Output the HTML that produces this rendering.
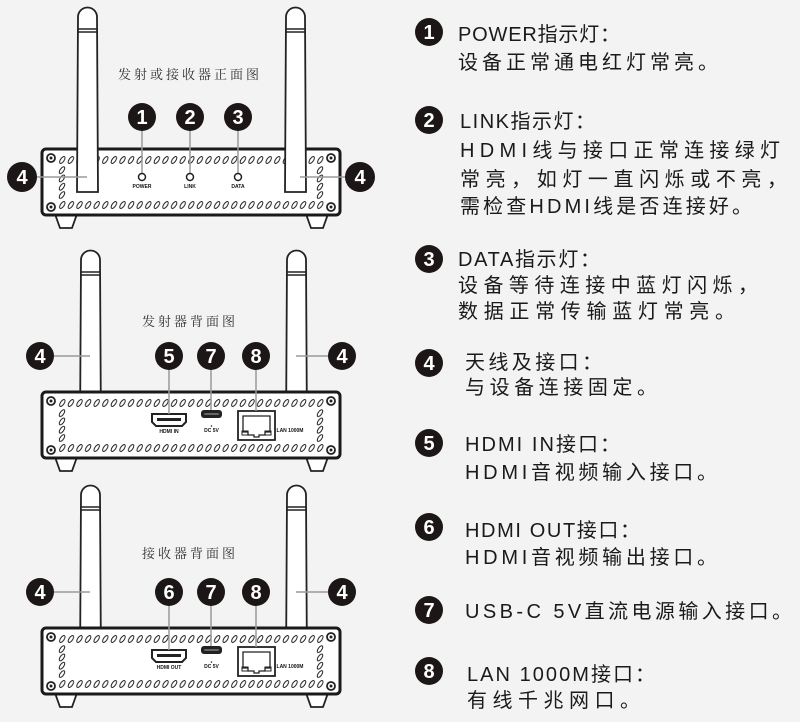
<!DOCTYPE html>
<html><head><meta charset="utf-8"><style>
html,body{margin:0;padding:0;background:#f3f3f3;}
svg{display:block;}
.cj{font-family:"Liberation Sans","Noto Sans CJK SC",sans-serif;font-size:20px;fill:#1a1a1a;}
.ttl{font-family:"Liberation Serif","Noto Serif CJK SC",serif;font-size:13px;fill:#333;}
.num{font-family:"Liberation Sans",sans-serif;font-weight:bold;font-size:20px;fill:#fff;text-anchor:middle;}
.tiny{font-family:"Liberation Sans",sans-serif;font-weight:bold;font-size:5px;fill:#111;text-anchor:middle;}
.ld{stroke:#9a9a9a;stroke-width:1.5;fill:none;}
</style></head><body>
<svg width="800" height="722" viewBox="0 0 800 722" xmlns="http://www.w3.org/2000/svg">
<defs>
<pattern id="vh1" x="58" y="6" width="8.6" height="10" patternUnits="userSpaceOnUse">
  <ellipse cx="4.3" cy="5" rx="4" ry="1.8" transform="rotate(-55 4.3 5)" fill="none" stroke="#222" stroke-width="1"/>
</pattern>
<pattern id="vh2" x="58" y="51" width="8.6" height="10" patternUnits="userSpaceOnUse">
  <ellipse cx="4.3" cy="5" rx="4" ry="1.8" transform="rotate(-55 4.3 5)" fill="none" stroke="#222" stroke-width="1"/>
</pattern>
<pattern id="vv1" x="57" y="17" width="10" height="8.3" patternUnits="userSpaceOnUse">
  <ellipse cx="5" cy="4.15" rx="4" ry="1.8" transform="rotate(-55 5 4.15)" fill="none" stroke="#222" stroke-width="1"/>
</pattern>
<pattern id="vv2" x="315" y="17" width="10" height="8.3" patternUnits="userSpaceOnUse">
  <ellipse cx="5" cy="4.15" rx="4" ry="1.8" transform="rotate(-55 5 4.15)" fill="none" stroke="#222" stroke-width="1"/>
</pattern>
<g id="ant">
  <path d="M0 185 L1 10 A9.5 9.5 0 0 1 20 10 L21 185 Z" fill="#fff" stroke="#222" stroke-width="1.8"/>
  <line x1="1" y1="22" x2="20" y2="22" stroke="#222" stroke-width="1.5"/>
  <line x1="1" y1="25" x2="20" y2="25" stroke="#222" stroke-width="1.5"/>
</g>
<g id="box">
  <path d="M55 65 L77 65 L72 79 L60 79 Z" fill="#fff" stroke="#222" stroke-width="1.8"/>
  <path d="M306 65 L328 65 L323 79 L311 79 Z" fill="#fff" stroke="#222" stroke-width="1.8"/>
  <rect x="42" y="0" width="298" height="66" rx="4" fill="#fff" stroke="#1a1a1a" stroke-width="3"/>
  <rect x="58" y="6" width="266" height="10" fill="url(#vh1)"/>
  <rect x="58" y="51" width="266" height="10" fill="url(#vh2)"/>
  <rect x="57" y="17" width="10" height="33.2" fill="url(#vv1)"/>
  <rect x="315" y="17" width="10" height="33.2" fill="url(#vv2)"/>
  <circle cx="51" cy="9" r="4" fill="#fff" stroke="#222" stroke-width="1.8"/><circle cx="51" cy="9" r="1.5" fill="#222"/>
  <circle cx="331" cy="9" r="4" fill="#fff" stroke="#222" stroke-width="1.8"/><circle cx="331" cy="9" r="1.5" fill="#222"/>
  <circle cx="51" cy="58" r="4" fill="#fff" stroke="#222" stroke-width="1.8"/><circle cx="51" cy="58" r="1.5" fill="#222"/>
  <circle cx="331" cy="58" r="4" fill="#fff" stroke="#222" stroke-width="1.8"/><circle cx="331" cy="58" r="1.5" fill="#222"/>
</g>
<g id="ports">
  <rect x="238" y="19" width="37" height="29" fill="#fff" stroke="#222" stroke-width="1.8"/>
  <path d="M243 40 L243 24 L270 24 L270 40 L265 40 L265 43 L259 43 L259 45 L254 45 L254 43 L248 43 L248 40 Z" fill="none" stroke="#222" stroke-width="1.3"/>
  <rect x="242" y="39" width="6" height="4" fill="none" stroke="#222" stroke-width="1"/>
  <rect x="265" y="39" width="6" height="4" fill="none" stroke="#222" stroke-width="1"/>
  <rect x="201" y="18" width="21" height="8" rx="3" fill="#222"/>
  <rect x="204" y="21" width="15" height="2" rx="1" fill="#666"/>
  <circle cx="211.5" cy="34" r="0.8" fill="#222"/>
  <text class="tiny" x="211.5" y="40">DC 5V</text>
  <text class="tiny" x="290" y="40">LAN 1000M</text>
  <path d="M152 22 L186 22 L186 30 L182 34 L156 34 L152 30 Z" fill="#fff" stroke="#222" stroke-width="2"/>
  <rect x="157" y="26" width="24" height="3" fill="#222"/>
</g>
</defs>

<!-- Device 1 -->
<text class="ttl" x="190" y="79" text-anchor="middle" letter-spacing="3">发射或接收器正面图</text>
<use href="#box" transform="translate(0,149)"/>
<use href="#ant" transform="translate(77,7)"/>
<use href="#ant" transform="translate(285,7)"/>
<line class="ld" x1="30" y1="177" x2="87" y2="177"/>
<line class="ld" x1="300" y1="177" x2="352" y2="177"/>
<line class="ld" x1="142" y1="117" x2="142" y2="173"/>
<line class="ld" x1="190" y1="117" x2="190" y2="173"/>
<line class="ld" x1="238" y1="117" x2="238" y2="173"/>
<circle cx="142" cy="177" r="3.5" fill="#fff" stroke="#222" stroke-width="1.5"/>
<circle cx="190" cy="177" r="3.5" fill="#fff" stroke="#222" stroke-width="1.5"/>
<circle cx="238" cy="177" r="3.5" fill="#fff" stroke="#222" stroke-width="1.5"/>
<text class="tiny" x="142" y="188">POWER</text>
<text class="tiny" x="190" y="188">LINK</text>
<text class="tiny" x="238" y="188">DATA</text>
<circle cx="142" cy="117" r="14" fill="#1c1616"/><text class="num" x="142" y="124">1</text>
<circle cx="190" cy="117" r="14" fill="#1c1616"/><text class="num" x="190" y="124">2</text>
<circle cx="238" cy="117" r="14" fill="#1c1616"/><text class="num" x="238" y="124">3</text>
<circle cx="22" cy="177" r="15" fill="#1c1616"/><text class="num" x="22" y="184">4</text>
<circle cx="360" cy="177" r="15" fill="#1c1616"/><text class="num" x="360" y="184">4</text>

<!-- Device 2 -->
<text class="ttl" x="190" y="326" text-anchor="middle" letter-spacing="3">发射器背面图</text>
<use href="#ant" transform="translate(80,250)"/>
<use href="#ant" transform="translate(286,250)"/>
<use href="#box" transform="translate(0,392)"/>
<use href="#ports" transform="translate(0,392)"/>
<text class="tiny" x="169" y="433">HDMI IN</text>
<line class="ld" x1="54" y1="356" x2="90" y2="356"/>
<line class="ld" x1="296" y1="356" x2="330" y2="356"/>
<line class="ld" x1="169" y1="356" x2="169" y2="414"/>
<line class="ld" x1="211" y1="356" x2="211" y2="410"/>
<line class="ld" x1="256" y1="356" x2="256" y2="411"/>
<circle cx="40" cy="356" r="14" fill="#1c1616"/><text class="num" x="40" y="363">4</text>
<circle cx="342" cy="356" r="14" fill="#1c1616"/><text class="num" x="342" y="363">4</text>
<circle cx="169" cy="356" r="14" fill="#1c1616"/><text class="num" x="169" y="363">5</text>
<circle cx="211" cy="356" r="14" fill="#1c1616"/><text class="num" x="211" y="363">7</text>
<circle cx="256" cy="356" r="14" fill="#1c1616"/><text class="num" x="256" y="363">8</text>

<!-- Device 3 -->
<text class="ttl" x="190" y="558" text-anchor="middle" letter-spacing="3">接收器背面图</text>
<use href="#ant" transform="translate(80,485)"/>
<use href="#ant" transform="translate(286,485)"/>
<use href="#box" transform="translate(0,628)"/>
<use href="#ports" transform="translate(0,628)"/>
<text class="tiny" x="169" y="669">HDMI OUT</text>
<line class="ld" x1="54" y1="592" x2="90" y2="592"/>
<line class="ld" x1="296" y1="592" x2="330" y2="592"/>
<line class="ld" x1="169" y1="592" x2="169" y2="650"/>
<line class="ld" x1="211" y1="592" x2="211" y2="646"/>
<line class="ld" x1="256" y1="592" x2="256" y2="647"/>
<circle cx="40" cy="592" r="14" fill="#1c1616"/><text class="num" x="40" y="599">4</text>
<circle cx="342" cy="592" r="14" fill="#1c1616"/><text class="num" x="342" y="599">4</text>
<circle cx="169" cy="592" r="14" fill="#1c1616"/><text class="num" x="169" y="599">6</text>
<circle cx="211" cy="592" r="14" fill="#1c1616"/><text class="num" x="211" y="599">7</text>
<circle cx="256" cy="592" r="14" fill="#1c1616"/><text class="num" x="256" y="599">8</text>

<!-- Right legend -->
<circle cx="429" cy="32" r="14" fill="#1c1616"/><text class="num" x="429" y="39">1</text>
<text class="cj" x="458" y="41" textLength="162" lengthAdjust="spacing">POWER指示灯：</text>
<text class="cj" x="458" y="69" textLength="260" lengthAdjust="spacing">设备正常通电红灯常亮。</text>

<circle cx="429" cy="120" r="14" fill="#1c1616"/><text class="num" x="429" y="127">2</text>
<text class="cj" x="460" y="128" textLength="135" lengthAdjust="spacing">LINK指示灯：</text>
<text class="cj" x="460" y="157" textLength="320" lengthAdjust="spacing">HDMI线与接口正常连接绿灯</text>
<text class="cj" x="460" y="186" textLength="327" lengthAdjust="spacing">常亮，如灯一直闪烁或不亮，</text>
<text class="cj" x="460" y="213" textLength="292" lengthAdjust="spacing">需检查HDMI线是否连接好。</text>

<circle cx="429" cy="259" r="14" fill="#1c1616"/><text class="num" x="429" y="266">3</text>
<text class="cj" x="458" y="266" textLength="142" lengthAdjust="spacing">DATA指示灯：</text>
<text class="cj" x="458" y="292" textLength="300" lengthAdjust="spacing">设备等待连接中蓝灯闪烁，</text>
<text class="cj" x="458" y="318" textLength="277" lengthAdjust="spacing">数据正常传输蓝灯常亮。</text>

<circle cx="429" cy="363" r="14" fill="#1c1616"/><text class="num" x="429" y="370">4</text>
<text class="cj" x="465" y="369" textLength="137" lengthAdjust="spacing">天线及接口：</text>
<text class="cj" x="465" y="394" textLength="192" lengthAdjust="spacing">与设备连接固定。</text>

<circle cx="429" cy="443" r="14" fill="#1c1616"/><text class="num" x="429" y="450">5</text>
<text class="cj" x="465" y="451" textLength="155" lengthAdjust="spacing">HDMI IN接口：</text>
<text class="cj" x="465" y="479" textLength="252" lengthAdjust="spacing">HDMI音视频输入接口。</text>

<circle cx="429" cy="527" r="14" fill="#1c1616"/><text class="num" x="429" y="534">6</text>
<text class="cj" x="465" y="537" textLength="175" lengthAdjust="spacing">HDMI OUT接口：</text>
<text class="cj" x="465" y="564" textLength="252" lengthAdjust="spacing">HDMI音视频输出接口。</text>

<circle cx="429" cy="610" r="14" fill="#1c1616"/><text class="num" x="429" y="617">7</text>
<text class="cj" x="465" y="618" textLength="327" lengthAdjust="spacing">USB-C 5V直流电源输入接口。</text>

<circle cx="429" cy="671" r="14" fill="#1c1616"/><text class="num" x="429" y="678">8</text>
<text class="cj" x="467" y="681" textLength="188" lengthAdjust="spacing">LAN 1000M接口：</text>
<text class="cj" x="467" y="707" textLength="173" lengthAdjust="spacing">有线千兆网口。</text>
</svg>
</body></html>
